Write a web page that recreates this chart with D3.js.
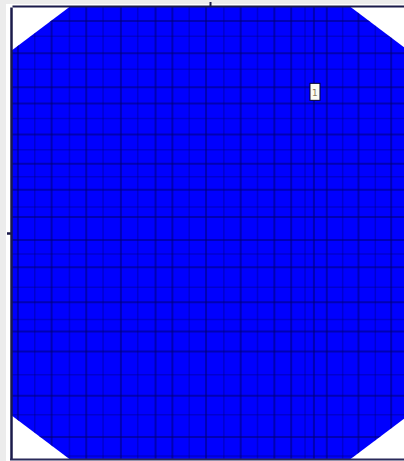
<!DOCTYPE html>
<html><head><meta charset="utf-8">
<script src="https://cdn.jsdelivr.net/npm/d3@7"></script>
<style>html,body{margin:0;padding:0;background:#ececec;overflow:hidden}</style>
</head><body>
<script>
// Data (plate domain units)
const domainX = [0, 400];
const domainY = [0, 450];
// Octagonal plate outline vertices
const outlineX = [0, 58, 342, 400, 400, 342, 58, 0];
const outlineY = [43, 0, 0, 43, 407, 450, 450, 407];
// Mesh lines (positions) and their weight (line darkness)
const meshX = [6, 23, 40, 58, 75, 92, 110, 127, 145, 162, 179, 196, 214, 231, 248, 265, 282, 296, 305, 318, 334, 350, 367, 383];
const meshXWeight = [2, 1, 2, 1, 2, 1, 2, 1, 2, 2, 1, 2, 1, 2, 1, 2, 2, 1, 2, 2, 1, 2, 1, 2];
const meshY = [14, 29, 46, 62, 80, 96, 111, 127, 142, 156, 169, 182, 199, 209, 232, 246, 259, 279, 294, 311, 323, 343, 366, 387, 406, 428, 447];
const meshYWeight = [2, 1, 2, 1, 2, 2, 1, 2, 1, 2, 1, 2, 1, 2, 2, 1, 2, 1, 2, 1, 2, 2, 1, 2, 1, 2, 1];
// Node label marker
const markerX = [302];
const markerY = [76];
const markerText = ["1"];

const W = 404, H = 461;
const svg = d3.select("body").append("svg").attr("width", W).attr("height", H);
const x = d3.scaleLinear().domain(domainX).range([12, 408]);
const y = d3.scaleLinear().domain(domainY).range([7, 459]);

// plot background (white)
svg.append("rect").attr("x", 6).attr("y", 4).attr("width", W - 6).attr("height", H - 4).attr("fill", "#fff");

const pts = outlineX.map((d, i) => [x(d), y(outlineY[i])]);
svg.append("clipPath").attr("id", "plate").append("polygon").attr("points", pts.map(p => p.join(",")).join(" "));
svg.append("polygon").attr("points", pts.map(p => p.join(",")).join(" ")).attr("fill", "#0000fe");

const blur = svg.append("filter").attr("id", "soft").append("feGaussianBlur").attr("stdDeviation", 0.6);

const g = svg.append("g").attr("clip-path", "url(#plate)").append("g").attr("filter", "url(#soft)");
g.selectAll("line.v").data(meshX).join("line").attr("class", "v")
  .attr("x1", d => x(d)).attr("x2", d => x(d)).attr("y1", y(0)).attr("y2", y(450))
  .attr("stroke", "#00006a").attr("stroke-width", (d, i) => meshXWeight[i] === 2 ? 2 : 1.5)
  .attr("stroke-opacity", (d, i) => meshXWeight[i] === 2 ? 0.5 : 0.32);
g.selectAll("line.h").data(meshY).join("line").attr("class", "h")
  .attr("y1", d => y(d)).attr("y2", d => y(d)).attr("x1", x(0)).attr("x2", x(400))
  .attr("stroke", "#00006a").attr("stroke-width", (d, i) => meshYWeight[i] === 2 ? 2 : 1.5)
  .attr("stroke-opacity", (d, i) => meshYWeight[i] === 2 ? 0.5 : 0.32);

// marker label
const mk = svg.append("g");
mk.selectAll("rect").data(markerX).join("rect")
  .attr("x", d => x(d) - 1).attr("y", (d, i) => y(markerY[i])).attr("width", 10).attr("height", 17)
  .attr("fill", "#fbfbf2").attr("stroke", "#000030").attr("stroke-width", 1);
mk.selectAll("text").data(markerX).join("text")
  .attr("x", d => x(d) + 4).attr("y", (d, i) => y(markerY[i]) + 13)
  .attr("text-anchor", "middle").attr("font-family", "DejaVu Sans").attr("font-size", 9).attr("fill", "#8a7a60")
  .text((d, i) => markerText[i]);

// axes (frame)
const axTop = d3.axisTop(x).tickValues([200]).tickSize(4).tickSizeOuter(0).tickFormat("");
const axLeft = d3.axisLeft(y).tickValues([225]).tickSize(4).tickSizeOuter(0).tickFormat("");
svg.append("g").attr("transform", `translate(0,${y(0) - 1})`).call(axTop)
  .call(s => s.selectAll("path,line").attr("stroke", "#1a1a4a").attr("stroke-width", 2));
svg.append("g").attr("transform", `translate(${x(0) - 1},0)`).call(axLeft)
  .call(s => s.selectAll("path,line").attr("stroke", "#1a1a4a").attr("stroke-width", 2.5));
svg.append("line").attr("x1", x(0) - 2).attr("x2", W).attr("y1", y(450) + 0.5).attr("y2", y(450) + 0.5)
  .attr("stroke", "#2a2a5a").attr("stroke-width", 2);
</script>
</body></html>
